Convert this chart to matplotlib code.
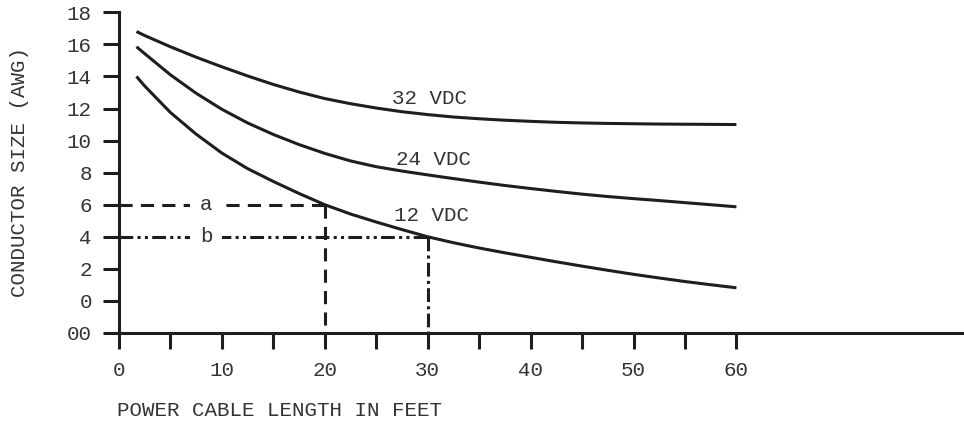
import matplotlib
matplotlib.use("Agg")
from matplotlib import pyplot as plt

plt.rcParams['font.family'] = ['Liberation Mono', 'DejaVu Sans Mono']

# cable length in feet
length = [1.7, 2.5, 5, 7.5, 10, 12.5, 15, 17.5, 20, 22.5, 25, 27.5, 30,
          32.5, 35, 37.5, 40, 42.5, 45, 47.5, 50, 52.5, 55, 57.5, 60]
# conductor size (AWG position on the chart, 00 -> -2)
vdc32 = [16.8, 16.55, 15.85, 15.2, 14.6, 14.03, 13.5, 13.03, 12.62, 12.3, 12.03, 11.8, 11.62,
         11.47, 11.36, 11.27, 11.2, 11.14, 11.1, 11.07, 11.05, 11.03, 11.02, 11.01, 11.0]
vdc24 = [15.85, 15.42, 14.1, 12.95, 11.95, 11.1, 10.38, 9.75, 9.2, 8.73, 8.37, 8.1, 7.86,
         7.63, 7.41, 7.2, 7.01, 6.83, 6.66, 6.51, 6.38, 6.26, 6.13, 6.0, 5.87]
vdc12 = [14.0, 13.4, 11.75, 10.4, 9.22, 8.25, 7.45, 6.7, 6.0, 5.42, 4.92, 4.45, 4.0,
         3.63, 3.3, 3.0, 2.72, 2.44, 2.17, 1.91, 1.66, 1.43, 1.21, 1.01, 0.82]
curve_labels = ['32 VDC', '24 VDC', '12 VDC']
label_pos = [(26.5, 12.65), (26.9, 8.8), (26.7, 5.35)]

yticks = [-2, 0, 2, 4, 6, 8, 10, 12, 14, 16, 18]
ytick_labels = ['00', '0', '2', '4', '6', '8', '10', '12', '14', '16', '18']
xticks = [0, 5, 10, 15, 20, 25, 30, 35, 40, 45, 50, 55, 60]
xtick_labels = ['0', '', '10', '', '20', '', '30', '', '40', '', '50', '', '60']

# example lookups: a = 20 ft at 6 AWG, b = 30 ft at 4 AWG
ex_a = (20, 6)
ex_b = (30, 4)

ink = '#1e1e1e'
txt = '#333333'
lw = 2.2

fig = plt.figure(figsize=(9.64, 4.29), dpi=100)
ax = fig.add_axes([119 / 964, 96 / 429, 843.8 / 964, 320.7 / 429])
ax.set_xlim(0, 82)
ax.set_ylim(-2, 18)

for ys in (vdc32, vdc24, vdc12):
    ax.plot(length, ys, color=ink, lw=lw, solid_capstyle='butt',
            solid_joinstyle='round')
for s, (lx, ly) in zip(curve_labels, label_pos):
    ax.text(lx, ly, s, fontsize=15, color=txt, va='center', ha='left')

# example a (dashed)
ax.plot([0, ex_a[0]], [ex_a[1], ex_a[1]], color=ink, lw=lw,
        linestyle=(0, (4.3, 2.7)), dash_capstyle='butt')
ax.plot([ex_a[0], ex_a[0]], [ex_a[1], -2], color=ink, lw=lw,
        linestyle=(0, (4.3, 2.7)), dash_capstyle='butt')
# example b (dash-dot-dot / dash-dot)
ax.plot([0, ex_b[0]], [ex_b[1], ex_b[1]], color=ink, lw=lw,
        linestyle=(0, (4.5, 1.4, 1.0, 1.4, 1.0, 1.4)), dash_capstyle='butt')
ax.plot([ex_b[0], ex_b[0]], [ex_b[1], -2], color=ink, lw=lw,
        linestyle=(0, (4.5, 1.4, 1.0, 1.4)), dash_capstyle='butt')
for s, (px, py) in zip(['a', 'b'], [ex_a, ex_b]):
    ax.text(8.45, py, s, fontsize=15, color=txt, ha='center', va='center',
            bbox=dict(facecolor='white', edgecolor='none', pad=7))

for side in ('top', 'right'):
    ax.spines[side].set_visible(False)
for side in ('left', 'bottom'):
    ax.spines[side].set_linewidth(lw)
    ax.spines[side].set_color(ink)
ax.spines['bottom'].set_position(('data', -2))

ax.set_yticks(yticks)
ax.set_yticklabels(ytick_labels)
ax.set_xticks(xticks)
ax.set_xticklabels(xtick_labels)
ax.tick_params(axis='both', direction='out', length=11.5, width=lw,
               color=ink, labelcolor=txt, labelsize=15)
ax.tick_params(axis='y', pad=8)
ax.tick_params(axis='x', pad=9)

fig.text(20 / 964, 1 - 172 / 429, 'CONDUCTOR SIZE (AWG)', rotation=90,
         fontsize=15, color=txt, ha='center', va='center')
fig.text(117 / 964, 1 - 410 / 429, 'POWER CABLE LENGTH IN FEET',
         fontsize=15, color=txt, ha='left', va='center')

fig.savefig('out.png', dpi=100, facecolor='white')
